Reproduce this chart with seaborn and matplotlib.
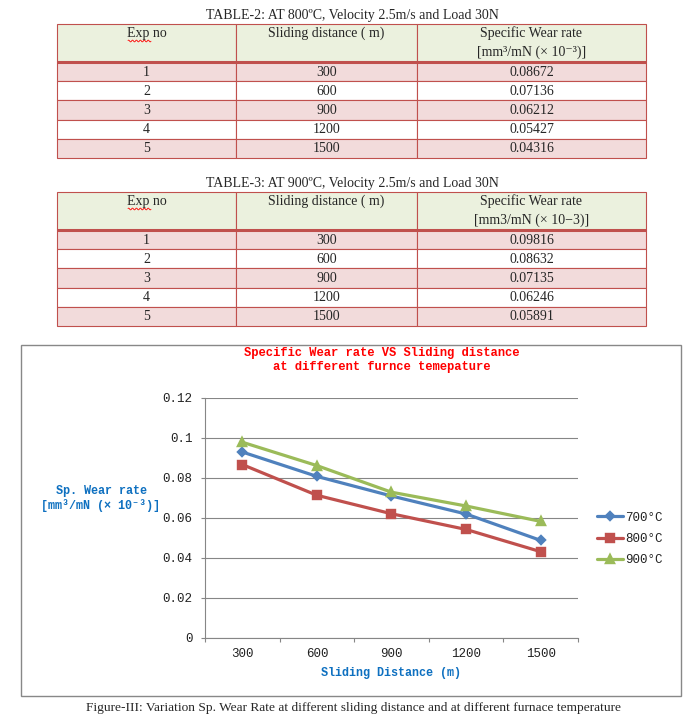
import numpy as np
import pandas as pd
import seaborn as sns
import matplotlib.pyplot as plt
from matplotlib.patches import Rectangle

# ---- data ----
exp_no = [1, 2, 3, 4, 5]
distances = [300, 600, 900, 1200, 1500]
table2_wear = ["0.08672", "0.07136", "0.06212", "0.05427", "0.04316"]
table3_wear = ["0.09816", "0.08632", "0.07135", "0.06246", "0.05891"]
temps = ["700°C", "800°C", "900°C"]
# values as plotted in the figure
wear_700 = [0.0930, 0.0808, 0.0710, 0.0620, 0.0488]
wear_800 = [0.08672, 0.07136, 0.06212, 0.05427, 0.04316]
wear_900 = [0.0979, 0.0862, 0.0729, 0.0660, 0.0583]
yticks = [0, 0.02, 0.04, 0.06, 0.08, 0.1, 0.12]

serif = ["Liberation Serif", "DejaVu Serif"]
mono = ["Liberation Mono", "DejaVu Sans Mono"]
red = "#C0504D"
blue_txt = "#0E70C0"

sns.set_theme(style="white")
plt.rcParams["font.family"] = serif

fig = plt.figure(figsize=(7, 7.25), dpi=100)

# ---- tables (drawn in a pixel-space overlay axes) ----
tax = fig.add_axes([0, 0, 1, 1])
tax.set_xlim(0, 700)
tax.set_ylim(725, 0)
tax.axis("off")

col_edges = [57, 236, 417, 646]
hdr_h = 38
row_h = 19.2
tfs = 10


def draw_table(top, title, header3):
    tax.text(352, top - 9, title, ha="center", va="center", fontsize=tfs)
    for i in range(3):
        tax.add_patch(Rectangle((col_edges[i], top), col_edges[i + 1] - col_edges[i], hdr_h,
                                fc="#EBF1DE", ec=red, lw=0.8))
    headers = ["Exp no", "Sliding distance ( m)", "Specific Wear rate"]
    for i, h in enumerate(headers):
        cx = (col_edges[i] + col_edges[i + 1]) / 2
        tax.text(cx, top + 9, h, ha="center", va="center", fontsize=tfs)
    cx = (col_edges[2] + col_edges[3]) / 2
    tax.text(cx, top + 28, header3, ha="center", va="center", fontsize=tfs)
    # spell-check squiggle under "Exp"
    sx = np.linspace(128, 151, 40)
    tax.plot(sx, top + 17 + 0.9 * np.sin(sx * 1.6), color="red", lw=0.6)
    return top + hdr_h


def draw_rows(y0, values):
    for r, (n, d, v) in enumerate(zip(exp_no, distances, values)):
        fc = "#F2DBDB" if r % 2 == 0 else "white"
        y = y0 + r * row_h
        for i, txt in enumerate([str(n), str(d), v]):
            tax.add_patch(Rectangle((col_edges[i], y), col_edges[i + 1] - col_edges[i], row_h,
                                    fc=fc, ec=red, lw=0.8))
            cx = (col_edges[i] + col_edges[i + 1]) / 2
            tax.text(cx, y + row_h / 2 + 0.5, txt, ha="center", va="center", fontsize=tfs)
    tax.plot([col_edges[0], col_edges[-1]], [y0, y0], color=red, lw=2.2, solid_capstyle="butt")


y0 = draw_table(24, "TABLE-2: AT 800ºC, Velocity 2.5m/s and Load 30N", "[mm³/mN (× 10⁻³)]")
draw_rows(y0, table2_wear)
y0 = draw_table(192, "TABLE-3: AT 900ºC, Velocity 2.5m/s and Load 30N", "[mm3/mN (× 10−3)]")
draw_rows(y0, table3_wear)

# chart frame
tax.add_patch(Rectangle((21, 345), 660, 351, fc="none", ec="#888888", lw=1))

# ---- chart ----
df = pd.DataFrame({
    "distance": [str(d) for d in distances] * 3,
    "wear": wear_700 + wear_800 + wear_900,
    "temp": np.repeat(temps, len(distances)),
})

ax = fig.add_axes([205 / 700, 1 - 638 / 725, 373 / 700, 240 / 725])
sns.pointplot(data=df, x="distance", y="wear", hue="temp",
              palette=["#4F81BD", red, "#9BBB59"], markers=["D", "s", "^"],
              linestyles="-", markersize=5, linewidth=2.3, ax=ax)

msize = {"D": 4.3, "s": 5.6, "^": 6.4}
for ln in ax.lines:
    if ln.get_marker() in msize:
        ln.set_markersize(msize[ln.get_marker()])

ax.set_xlim(-0.5, 4.5)
ax.set_ylim(0, 0.12)
ax.set_yticks(yticks)
ax.set_yticklabels(["0" if t == 0 else f"{t:g}" for t in yticks], family=mono, fontsize=9, color="#222222")
ax.set_xticks(range(len(distances)))
ax.set_xticklabels([str(d) for d in distances], family=mono, fontsize=9, color="#222222")
ax.set_xticks(np.arange(-0.5, 5, 1), minor=True)
ax.tick_params(axis="x", which="major", length=0, pad=7)
ax.tick_params(axis="x", which="minor", length=3, width=0.8, color="#868686", bottom=True)
ax.tick_params(axis="y", length=3, width=0.8, color="#868686", left=True, pad=6)
ax.grid(axis="y", color="#868686", lw=0.8)
ax.set_axisbelow(True)
for s in ["top", "right"]:
    ax.spines[s].set_visible(False)
for s in ["left", "bottom"]:
    ax.spines[s].set_color("#868686")
    ax.spines[s].set_linewidth(0.8)

ax.set_xlabel("Sliding Distance (m)", family=mono, fontsize=8.5, fontweight="bold",
              color=blue_txt, labelpad=5.5)
ax.set_ylabel("")

fig.text(101 / 700, 1 - 498.5 / 725, "Sp. Wear rate\n[mm³/mN (× 10⁻³)]", ha="center", va="center",
         multialignment="center", family=mono, fontsize=8.5, fontweight="bold", color=blue_txt)

fig.text(382 / 700, 1 - 360 / 725, "Specific Wear rate VS Sliding distance\nat different furnce temepature",
         ha="center", va="center", multialignment="center", family=mono, fontsize=8.7,
         fontweight="bold", color="red", linespacing=1.15)

leg = ax.legend(loc="center left", bbox_to_anchor=(597 / 700, 1 - 539 / 725), bbox_transform=fig.transFigure,
                frameon=False, borderpad=0, borderaxespad=0, handlelength=2.1, handletextpad=0.15,
                labelspacing=0.75, prop={"family": mono, "size": 9}, title=None)
for h in leg.legend_handles:
    if h.get_marker() in msize:
        h.set_markersize(msize[h.get_marker()])
for t in leg.get_texts():
    t.set_color("#222222")

fig.text(353 / 700, 1 - 708 / 725,
         "Figure-III: Variation Sp. Wear Rate at different sliding distance and at different furnace temperature",
         ha="center", va="center", fontsize=9.6)

fig.savefig("out.png", dpi=100)
